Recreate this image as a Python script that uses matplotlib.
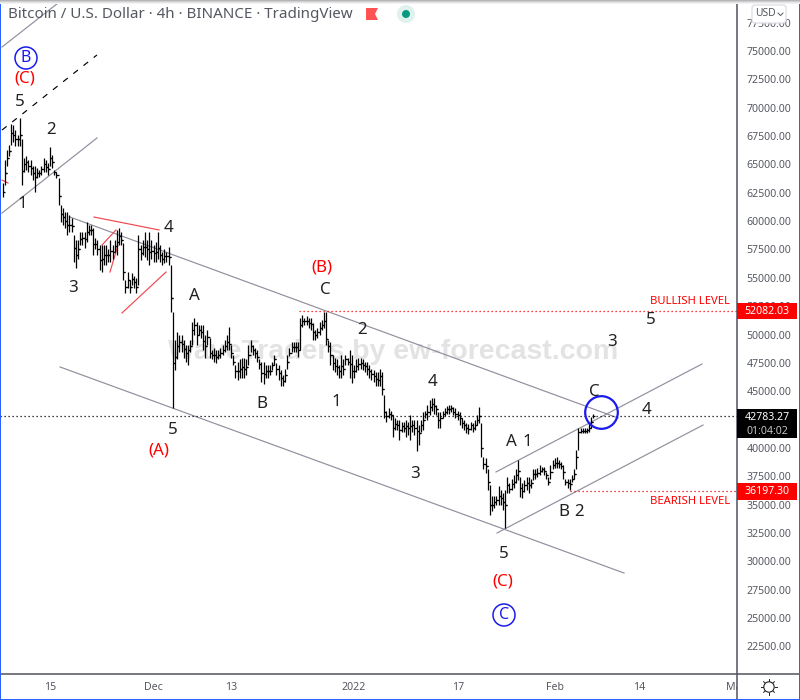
import numpy as np
import pandas as pd
import matplotlib
matplotlib.use("Agg")
import matplotlib.pyplot as plt
import matplotlib.dates as mdates
from matplotlib.lines import Line2D
from matplotlib.patches import Circle, FancyBboxPatch, Polygon, Rectangle
from matplotlib.transforms import Affine2D

plt.rcParams["font.family"] = ["Noto Sans", "DejaVu Sans"]

# 8h bars, prices in thousand USD
highs = [63.4, 65.4, 66.3, 66.7, 68.6, 68.5, 68.0, 67.6, 69.1, 67.2,
         65.6, 65.7, 65.4, 65.4, 64.9, 64.9, 64.7, 64.5, 64.9, 65.6,
         65.4, 65.1, 66.5, 65.8, 64.5, 64.3, 63.8, 61.4, 61.2, 60.8,
         60.8, 60.5, 60.3, 58.8, 58.3, 58.3, 59.0, 59.0, 59.0, 59.9,
         59.7, 59.7, 59.4, 58.5, 58.3, 57.9, 57.9, 57.9, 57.9, 57.5,
         58.3, 57.9, 58.3, 59.2, 59.4, 59.0, 58.1, 54.8, 55.5, 54.8,
         55.4, 55.2, 55.0, 58.8, 57.9, 58.3, 59.0, 58.3, 59.0, 58.3,
         57.9, 58.2, 59.0, 57.9, 57.3, 57.5, 57.3, 57.7, 56.1, 52.0,
         49.5, 50.2, 50.0, 50.0, 49.5, 49.1, 49.1, 49.5, 51.1, 51.5,
         51.1, 50.8, 50.8, 50.8, 50.0, 50.4, 49.7, 48.6, 48.8, 48.6,
         48.6, 48.8, 49.1, 49.5, 50.0, 50.7, 49.1, 48.2, 47.3, 47.6,
         47.8, 47.9, 47.9, 47.8, 49.1, 49.5, 49.1, 48.8, 48.6, 47.8,
         47.6, 47.6, 47.3, 47.3, 47.3, 47.6, 48.2, 47.5, 47.3, 46.9,
         46.4, 47.0, 48.2, 48.8, 49.3, 49.3, 49.3, 49.3, 51.5, 51.7,
         51.5, 51.6, 51.5, 51.5, 51.0, 50.4, 50.6, 51.1, 51.3, 52.0,
         52.0, 49.5, 49.3, 48.2, 47.9, 47.8, 47.3, 48.2, 47.8, 48.2,
         47.9, 48.6, 48.2, 47.3, 47.8, 47.9, 47.9, 47.8, 47.6, 47.6,
         47.3, 47.0, 46.9, 46.7, 46.7, 47.0, 46.7, 44.7, 43.3, 43.5,
         43.3, 42.9, 42.6, 42.5, 42.5, 42.3, 42.3, 42.5, 42.3, 42.9,
         42.5, 42.5, 42.5, 42.0, 42.5, 43.2, 43.3, 43.8, 44.2, 44.4,
         44.4, 43.8, 43.2, 43.2, 43.3, 43.5, 43.7, 43.8, 43.8, 43.6,
         43.5, 43.3, 43.2, 42.6, 42.5, 42.2, 42.1, 42.3, 42.2, 42.5,
         42.9, 43.6, 42.2, 39.2, 39.1, 38.1, 36.7, 35.8, 35.8, 35.8,
         36.6, 36.3, 36.0, 36.3, 37.4, 36.9, 37.3, 37.6, 38.1, 38.9,
         37.4, 36.9, 37.2, 37.4, 37.4, 37.3, 38.1, 38.1, 38.2, 38.5,
         38.3, 38.3, 37.9, 37.4, 38.5, 38.9, 39.1, 39.2, 38.9, 38.8,
         38.5, 37.3, 37.3, 37.3, 37.6, 38.1, 39.8, 41.8, 41.8, 41.8,
         41.8, 41.8, 42.2, 42.7, 43.0]
lows = [62.1, 63.2, 64.9, 65.7, 66.7, 67.0, 66.6, 66.6, 66.6, 63.2,
        64.3, 64.5, 64.3, 64.1, 63.6, 62.6, 63.8, 63.9, 64.1, 64.3,
        64.3, 64.1, 64.9, 64.7, 64.1, 63.8, 61.4, 59.9, 59.7, 59.4,
        58.8, 59.0, 59.0, 56.4, 55.9, 56.7, 57.9, 57.9, 57.6, 58.2,
        58.8, 58.8, 57.0, 57.5, 57.0, 55.7, 55.5, 56.1, 56.1, 56.4,
        56.4, 56.7, 57.3, 57.0, 57.9, 57.9, 54.8, 53.7, 54.1, 53.7,
        54.4, 54.1, 53.7, 54.4, 56.6, 57.0, 56.8, 56.6, 56.1, 56.7,
        56.4, 56.4, 56.7, 56.4, 56.1, 56.3, 56.4, 56.1, 52.0, 43.5,
        46.9, 47.8, 48.5, 48.5, 47.9, 47.6, 47.3, 48.5, 49.1, 50.0,
        49.1, 50.0, 49.7, 48.6, 47.9, 49.1, 47.9, 47.8, 47.6, 47.5,
        47.8, 47.9, 48.2, 48.5, 48.6, 48.6, 47.9, 47.3, 46.2, 46.0,
        46.2, 46.2, 46.2, 46.4, 47.3, 48.5, 48.2, 47.9, 47.6, 47.0,
        45.8, 45.6, 46.2, 46.2, 46.4, 46.9, 47.3, 46.4, 46.0, 45.5,
        45.5, 45.8, 47.0, 48.1, 48.5, 48.5, 48.5, 48.0, 48.6, 50.7,
        50.8, 50.8, 50.6, 50.4, 49.5, 49.5, 49.7, 50.0, 50.4, 50.6,
        49.1, 48.5, 47.3, 46.9, 46.7, 46.4, 46.2, 46.2, 46.4, 47.3,
        47.3, 46.2, 45.7, 46.2, 46.7, 46.9, 47.0, 46.9, 46.7, 46.4,
        46.2, 46.0, 45.8, 45.5, 45.5, 45.5, 44.7, 42.6, 42.3, 42.6,
        42.5, 41.0, 41.6, 41.6, 40.7, 41.4, 41.4, 41.0, 41.1, 40.7,
        41.4, 41.1, 39.7, 40.3, 41.4, 41.6, 42.6, 42.5, 42.9, 43.3,
        43.0, 42.9, 41.8, 41.8, 42.6, 42.8, 43.0, 43.0, 43.2, 42.9,
        42.6, 42.5, 42.0, 41.8, 41.6, 41.3, 41.2, 41.6, 41.4, 41.6,
        42.0, 42.2, 39.2, 38.1, 37.8, 36.3, 34.1, 34.4, 34.7, 35.0,
        35.0, 35.0, 34.5, 32.9, 36.0, 36.0, 36.3, 36.5, 36.9, 37.2,
        35.7, 35.6, 36.1, 36.3, 36.0, 36.5, 37.2, 37.3, 37.4, 37.6,
        37.9, 37.6, 37.3, 36.7, 37.3, 38.1, 38.2, 38.2, 38.2, 38.1,
        37.3, 36.7, 36.5, 36.3, 37.0, 37.3, 38.1, 39.8, 41.3, 41.3,
        41.3, 41.3, 41.4, 41.8, 42.6]
closes = [62.6, 64.2, 65.6, 66.2, 67.8, 67.6, 67.2, 67.2, 67.6, 64.4,
          65.0, 65.2, 64.9, 64.7, 64.2, 63.9, 64.2, 64.2, 64.6, 65.0,
          64.8, 64.6, 65.6, 65.2, 64.3, 64.1, 62.2, 60.6, 60.4, 60.0,
          59.7, 59.7, 59.6, 57.6, 57.0, 57.5, 58.4, 58.5, 58.4, 59.0,
          59.2, 59.2, 58.0, 58.0, 57.5, 56.6, 56.7, 57.0, 57.0, 57.0,
          57.4, 57.3, 57.8, 58.2, 58.7, 58.3, 55.5, 54.2, 54.8, 54.2,
          54.9, 54.6, 54.2, 57.5, 57.2, 57.7, 57.7, 57.5, 57.3, 57.4,
          57.2, 57.3, 57.6, 57.0, 56.7, 56.9, 56.9, 56.8, 53.2, 47.5,
          48.0, 49.0, 49.3, 49.2, 48.7, 48.4, 48.6, 49.0, 50.4, 50.8,
          50.0, 50.4, 50.2, 49.4, 49.0, 49.8, 48.4, 48.2, 48.2, 48.0,
          48.2, 48.4, 48.6, 49.0, 49.3, 49.2, 48.4, 47.6, 46.8, 46.8,
          47.0, 47.1, 47.0, 47.1, 48.2, 49.0, 48.6, 48.4, 48.0, 47.4,
          46.6, 46.5, 46.8, 46.8, 46.8, 47.3, 47.8, 47.0, 46.6, 46.2,
          45.9, 46.4, 47.6, 48.4, 48.9, 48.9, 48.9, 48.6, 50.8, 51.2,
          51.2, 51.2, 51.0, 50.9, 50.2, 50.0, 50.2, 50.6, 50.8, 51.2,
          49.6, 49.0, 48.2, 47.5, 47.2, 47.1, 46.8, 47.2, 47.0, 47.8,
          47.6, 47.4, 46.8, 46.8, 47.2, 47.4, 47.5, 47.3, 47.2, 47.0,
          46.8, 46.5, 46.3, 46.1, 46.0, 46.3, 45.2, 43.2, 42.8, 43.0,
          42.9, 41.8, 42.1, 42.0, 41.6, 41.9, 41.8, 41.9, 41.8, 41.9,
          42.0, 41.8, 41.5, 41.3, 42.0, 42.5, 43.0, 43.2, 43.6, 43.9,
          43.7, 43.4, 42.5, 42.6, 43.0, 43.2, 43.4, 43.4, 43.5, 43.2,
          43.0, 42.9, 42.6, 42.2, 42.0, 41.8, 41.7, 42.0, 41.8, 42.0,
          42.5, 42.8, 40.0, 38.6, 38.4, 37.0, 35.0, 35.0, 35.2, 35.4,
          35.8, 35.6, 35.2, 35.0, 36.7, 36.4, 36.8, 37.0, 37.6, 38.0,
          36.5, 36.2, 36.7, 36.9, 36.7, 36.9, 37.7, 37.7, 37.8, 38.0,
          38.1, 38.0, 37.6, 37.0, 37.9, 38.5, 38.7, 38.7, 38.6, 38.4,
          37.9, 37.0, 36.9, 36.8, 37.3, 37.7, 39.2, 41.4, 41.5, 41.5,
          41.5, 41.6, 41.8, 42.3, 42.78]

bullish_level = 52082.03
bearish_level = 36197.30
last_price = 42783.27
countdown = "01:04:02"

# 42500 sits under the last price flag, so it is left out
price_ticks = [p for p in range(22500, 77501, 2500) if p != 42500]
date_ticks = ["2021-11-15", "2021-12-01", "2021-12-13", "2022-01-01",
              "2022-01-17", "2022-02-01", "2022-02-14", "2022-03-01"]
date_labels = ["15", "Dec", "13", "2022", "17", "Feb", "14", "Mar"]

# drawn trend lines: days after 15 Nov, thousand USD
channel_days = [[3.09, 87.79], [1.55, 88.72], [69.09, 100.93], [68.93, 100.77],
                [-7.42, 1.85], [-7.42, 7.26]]
channel_prices = [[60.36, 42.64], [47.14, 28.97], [32.5, 42.02], [37.88, 47.4],
                  [75.35, 79.5], [60.71, 67.33]]
dashed_days = [-7.42, 7.26]
dashed_prices = [68.03, 74.65]
red_days = [[6.8, 16.85], [8.04, 10.2], [9.27, 10.51], [11.13, 17.93], [-7.42, -6.49]]
red_prices = [[60.36, 59.22], [57.89, 59.22], [55.51, 57.89], [51.9, 55.51], [63.62, 63.36]]

GREY = "#555861"
RED = "#ff0000"
BLUE = "#1b1bf0"
AXIS = "#50535e"
LINE = "#8f8f9e"

W, H = 800, 700
fig = plt.figure(figsize=(W / 100, H / 100), dpi=100)
ax = fig.add_axes([0, (H - 673.5) / H, 737 / W, 673.5 / H])
px = Affine2D().scale(1, -1).translate(0, H)

origin = mdates.date2num(pd.Timestamp("2021-11-15"))
times = mdates.date2num(pd.date_range("2021-11-07 16:00", periods=len(highs), freq="8h"))

ax.set_xlim(origin - 50 / 6.47, origin + 687 / 6.47)
ax.set_ylim(20110, 79497)

ax.text(0.533, 0.478, "WaveTraders by ew-forecast.com", transform=ax.transAxes,
        ha="center", va="center", fontsize=20.5, fontweight="bold",
        family="Liberation Sans", color="#e3e3e3", zorder=0)

for d, p in zip(channel_days, channel_prices):
    ax.plot(origin + np.array(d), np.array(p) * 1000, color=LINE, lw=0.85, zorder=1)
ax.plot(origin + np.array(dashed_days), np.array(dashed_prices) * 1000, color="black",
        lw=0.85, dashes=(5, 6), zorder=1)
for d, p in zip(red_days, red_prices):
    ax.plot(origin + np.array(d), np.array(p) * 1000, color="#f0484e", lw=0.85, zorder=1)

ax.plot([origin + 38.49, origin + 110], [bullish_level] * 2, color=RED, lw=0.9, dashes=(1, 2.2), zorder=1)
ax.plot([origin + 80.37, origin + 110], [bearish_level] * 2, color=RED, lw=0.9, dashes=(1, 2.2), zorder=1)
ax.axhline(last_price, color="black", lw=0.9, dashes=(1, 2.2), zorder=1)

# OHLC bars, open tick is the previous close
hi = np.array(highs) * 1000
lo = np.array(lows) * 1000
cl = np.array(closes) * 1000
ax.vlines(times, lo, hi, color="black", lw=0.9, zorder=2)
ax.hlines(cl, times, times + 0.3, color="black", lw=0.9, zorder=2)
ax.hlines(cl[:-1], times[1:] - 0.3, times[1:], color="black", lw=0.9, zorder=2)

ax.plot([origin + 85.09], [43210], marker="o", ms=23.5, mfc="none", mec=BLUE, mew=1.6, zorder=3)

ax.yaxis.tick_right()
ax.set_yticks(price_ticks)
ax.set_yticklabels([f"{t:.2f}" for t in price_ticks], fontsize=7.6, color=GREY)
ax.set_xticks([mdates.date2num(pd.Timestamp(d)) for d in date_ticks])
ax.set_xticklabels(date_labels, fontsize=7.6, color=GREY)
ax.tick_params(length=0)
ax.tick_params(axis="y", pad=7)
ax.tick_params(axis="x", pad=6)
# month label runs into the price scale and gets cut off there
for lab in ax.get_xticklabels():
    lab.set_clip_on(True)
    lab.set_clip_box(matplotlib.transforms.Bbox([[0, 0], [737, H]]))
ax.get_xticklabels()[3].set_fontweight("bold")
for side in ax.spines.values():
    side.set_visible(False)


def label(x, y, s, color="#222222", size=12.2, **kw):
    fig.text(x, y + 1.5, s, transform=px, ha="center", va="center", color=color, fontsize=size, **kw)


wave_labels = [("5", 20, 100), ("2", 51, 129), ("1", 22, 202), ("3", 73, 286), ("4", 169, 227),
               ("A", 194, 295), ("5", 173, 428), ("B", 262, 403), ("C", 325, 288), ("2", 362, 328),
               ("1", 336, 400), ("4", 433, 381), ("3", 415, 473), ("A", 511, 441), ("1", 527, 441),
               ("C", 594, 390), ("5", 504, 552), ("B", 564, 510), ("2", 579, 510), ("4", 646, 408),
               ("3", 612, 341), ("5", 651, 319)]
for s, x, y in wave_labels:
    label(x, y, s)
for s, x, y in [("(C)", 25, 77), ("(B)", 322, 266), ("(A)", 159, 449), ("(C)", 503, 580)]:
    label(x, y, s, color=RED)
for s, x, y in [("B", 26, 58), ("C", 504, 615)]:
    fig.add_artist(Circle((x, y), 11, transform=px, fc="none", ec=BLUE, lw=1.1))
    label(x, y - 1.5, s, color=BLUE, size=11.5)

label(690.5, 299.5, "BULLISH LEVEL", color=RED, size=8.1)
label(690, 499.5, "BEARISH LEVEL", color=RED, size=8.1)

fig.text(8, 14, "Bitcoin / U.S. Dollar · 4h · BINANCE · TradingView", transform=px,
         ha="left", va="center", fontsize=10.9, color=GREY)
fig.add_artist(Polygon([(366, 8), (378, 8), (375, 14), (378, 20), (366, 20)], transform=px,
                       fc="#ff5252", ec="none"))
fig.add_artist(Circle((406, 14), 9, transform=px, fc="#dff2ee", ec="none"))
fig.add_artist(Circle((406, 14), 4, transform=px, fc="#089981", ec="none"))

# price flags on the right scale
for level, top, bottom, bg in [(bullish_level, 303, 319, RED), (bearish_level, 483, 500, RED),
                               (last_price, 409, 438, "black")]:
    fig.add_artist(Rectangle((737, top), 60, bottom - top, transform=px, fc=bg, ec="none", zorder=5))
    if bg == RED:
        fig.text(767, (top + bottom) / 2, f"{level:.2f}", transform=px, ha="center", va="center",
                 color="white", fontsize=7.6, fontweight="bold", zorder=6)
fig.text(767, 417, f"{last_price:.2f}", transform=px, ha="center", va="center",
         color="white", fontsize=7.6, fontweight="bold", zorder=6)
fig.text(767, 431, countdown, transform=px, ha="center", va="center",
         color="#c4c4c4", fontsize=7.6, zorder=6)

# currency button
fig.add_artist(FancyBboxPatch((752, 5), 34, 18, boxstyle="round,pad=0,rounding_size=3", transform=px,
                              fc="white", ec="#dcdce4", lw=0.9, zorder=5))
fig.text(765, 14, "USD", transform=px, ha="center", va="center", fontsize=7.4, color=GREY, zorder=6)
fig.add_artist(Line2D([778, 780.5, 783], [13, 15.5, 13], transform=px, color=GREY, lw=0.7, zorder=6))

# scale borders
fig.add_artist(Line2D([737, 737], [0, 700], transform=px, color=AXIS, lw=1.1, zorder=4))
fig.add_artist(Line2D([0, 800], [673.5, 673.5], transform=px, color=AXIS, lw=1.1, zorder=4))

# theme button
fig.add_artist(Circle((769, 687), 5.2, transform=px, fc="none", ec="#222222", lw=0.8))
for ang in np.deg2rad(np.arange(0, 360, 45)):
    fig.add_artist(Line2D([769 + 6 * np.cos(ang), 769 + 7.6 * np.cos(ang)],
                          [687 + 6 * np.sin(ang), 687 + 7.6 * np.sin(ang)],
                          transform=px, color="#222222", lw=0.7))

# window frame
for x0, y0, w, h in [(0, 0, 1.2, 700), (798.8, 0, 1.2, 700), (0, 698.8, 800, 1.2)]:
    fig.add_artist(Rectangle((x0, y0), w, h, transform=px, fc="#2962ff", ec="none", zorder=7))
for i, shade in enumerate(["#b5b5b8", "#cfcfd2", "#e4e4e6", "#f3f3f4"]):
    fig.add_artist(Rectangle((0, i), 800, 1, transform=px, fc=shade, ec="none", zorder=7))

fig.savefig("out.png", dpi=100)
